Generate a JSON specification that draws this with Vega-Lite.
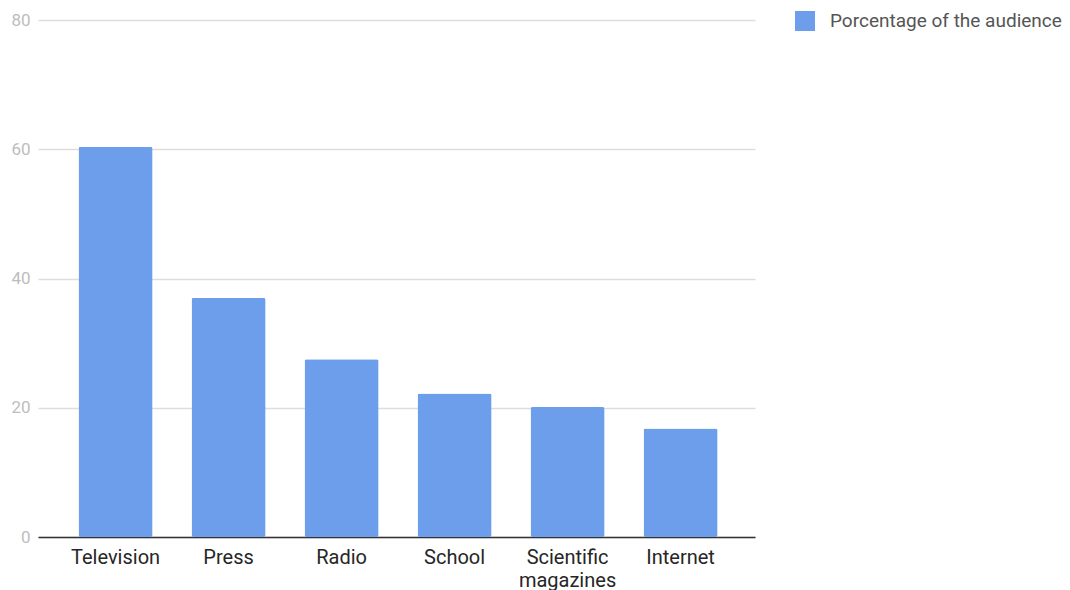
{
  "$schema": "https://vega.github.io/schema/vega-lite/v6.json",
  "autosize": "none",
  "width": 717,
  "height": 517,
  "padding": {"left": 38, "top": 20, "right": 315, "bottom": 53},
  "background": "white",
  "config": {
    "font": "Roboto",
    "view": {"stroke": null}
  },
  "data": {
    "values": [
      {"source": "Television", "pct": 60.4, "series": "Porcentage of the audience"},
      {"source": "Press", "pct": 37.0, "series": "Porcentage of the audience"},
      {"source": "Radio", "pct": 27.5, "series": "Porcentage of the audience"},
      {"source": "School", "pct": 22.2, "series": "Porcentage of the audience"},
      {"source": "Scientific magazines", "pct": 20.1, "series": "Porcentage of the audience"},
      {"source": "Internet", "pct": 16.8, "series": "Porcentage of the audience"}
    ]
  },
  "mark": {"type": "bar", "cornerRadius": 2},
  "encoding": {
    "x": {
      "field": "source",
      "type": "nominal",
      "sort": null,
      "scale": {"paddingInner": 0.345, "paddingOuter": 0.345, "align": 0.52},
      "axis": {
        "title": null,
        "labelAngle": 0,
        "labelFontSize": 20,
        "labelColor": "#262626",
        "labelPadding": 10,
        "labelLineHeight": 23,
        "labelLimit": 0,
        "ticks": false,
        "domainColor": "#333333",
        "domainWidth": 1.5,
        "grid": false,
        "labelExpr": "datum.value == 'Scientific magazines' ? ['Scientific', 'magazines'] : datum.value"
      }
    },
    "y": {
      "field": "pct",
      "type": "quantitative",
      "scale": {"domain": [0, 80], "nice": false},
      "axis": {
        "title": null,
        "values": [0, 20, 40, 60, 80],
        "labelFontSize": 17,
        "labelColor": "#bdbdbd",
        "labelPadding": 8,
        "ticks": false,
        "domain": false,
        "gridColor": "#dddddd",
        "gridWidth": 1.5
      }
    },
    "color": {
      "field": "series",
      "type": "nominal",
      "scale": {"range": ["#6d9eeb"]},
      "legend": {
        "title": null,
        "orient": "none",
        "legendX": 757,
        "legendY": -9,
        "symbolType": "square",
        "symbolSize": 400,
        "symbolStrokeWidth": 0,
        "labelFontSize": 19,
        "labelLimit": 0,
        "labelColor": "#555555",
        "labelOffset": 15
      }
    }
  }
}
